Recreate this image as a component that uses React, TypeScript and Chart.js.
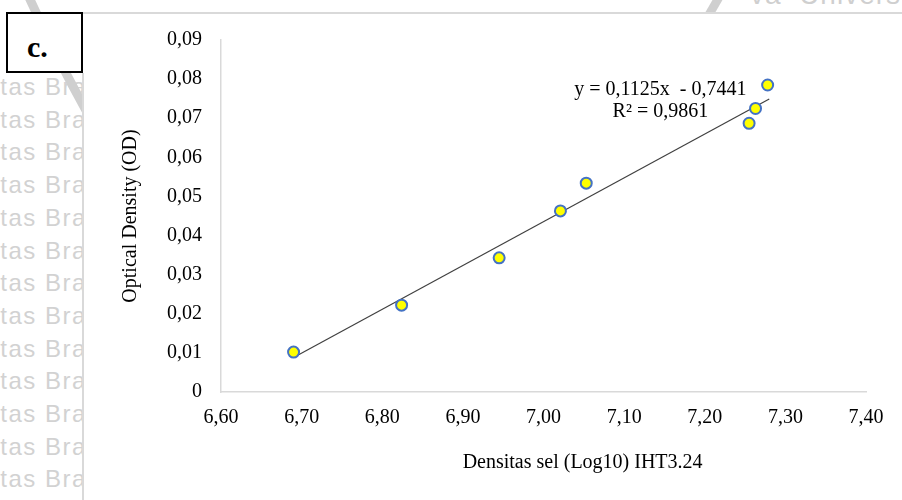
import React, { useEffect, useRef } from "react";
import { Chart, registerables } from "chart.js";

Chart.register(...registerables);

// ---- data ----
const cellDensity = [6.69, 6.824, 6.945, 7.021, 7.053, 7.255, 7.263, 7.278];
const opticalDensity = [0.0102, 0.0222, 0.0343, 0.0463, 0.0534, 0.0687, 0.0725, 0.0785];
const trendX = [6.69, 7.28];
const trendY = [0.0088, 0.0749];
const xTicks = [6.6, 6.7, 6.8, 6.9, 7.0, 7.1, 7.2, 7.3, 7.4];
const yTicks = [0, 0.01, 0.02, 0.03, 0.04, 0.05, 0.06, 0.07, 0.08, 0.09];
const equationLines = ["y = 0,1125x  - 0,7441", "R\u00B2 = 0,9861"];
const xTitle = "Densitas sel (Log10) IHT3.24";
const yTitle = "Optical Density (OD)";
const panelLabel = "c.";
const watermarkRows = Array.from({ length: 13 }, (_, i) => i);

const SERIF = "'Times New Roman', 'Liberation Serif', serif";

const annotationPlugin = {
  id: "equationLabel",
  afterDatasetsDraw(chart: any) {
    const { ctx, scales, chartArea } = chart;
    const xs = scales.x;
    const ys = scales.y;
    const anchorX = 7.145;
    const anchorY = [0.0772, 0.0716];
    ctx.save();
    ctx.fillStyle = "#000";
    ctx.font = `20px ${SERIF}`;
    ctx.textAlign = "center";
    ctx.textBaseline = "middle";
    equationLines.forEach((t, i) => {
      ctx.fillText(t, xs.getPixelForValue(anchorX), ys.getPixelForValue(anchorY[i]));
    });
    // x-axis title (Excel places it right of centre)
    ctx.fillText(xTitle, xs.getPixelForValue(7.0485), chartArea.bottom + 71);
    ctx.restore();
  },
};

export default function App() {
  const ref = useRef<HTMLCanvasElement | null>(null);

  useEffect(() => {
    document.body.style.margin = "0";
    if (!ref.current) return;
    const chart = new Chart(ref.current, {
      type: "scatter",
      data: {
        datasets: [
          {
            type: "scatter",
            label: "OD",
            data: cellDensity.map((x, i) => ({ x, y: opticalDensity[i] })),
            pointRadius: 5.5,
            pointHoverRadius: 5.5,
            pointBorderWidth: 2,
            pointBackgroundColor: "#FFFF00",
            pointBorderColor: "#4472C4",
            order: 0,
          },
          {
            type: "line",
            label: "Linear",
            data: trendX.map((x, i) => ({ x, y: trendY[i] })),
            borderColor: "#404040",
            borderWidth: 1.2,
            pointRadius: 0,
            fill: false,
            order: 1,
          },
        ] as any,
      },
      options: {
        animation: false,
        responsive: false,
        maintainAspectRatio: false,
        layout: { padding: { left: 119, top: 40, right: 36, bottom: 26 } },
        plugins: {
          legend: { display: false },
          tooltip: { enabled: false },
        },
        scales: {
          x: {
            type: "linear",
            position: "bottom",
            min: 6.6,
            max: 7.4,
            afterBuildTicks: (s: any) => {
              s.ticks = xTicks.map((v) => ({ value: v }));
            },
            afterFit: (s: any) => {
              s.height = 82;
            },
            grid: { display: false, drawTicks: false },
            border: { display: true, color: "#d9d9d9", width: 1.5 },
            ticks: {
              padding: 14,
              color: "#000",
              font: { family: SERIF, size: 20 },
              maxRotation: 0,
              callback: (v: any) => Number(v).toFixed(2).replace(".", ","),
            },
            title: { display: false, text: xTitle },
          },
          y: {
            type: "linear",
            min: 0,
            max: 0.09,
            afterBuildTicks: (s: any) => {
              s.ticks = yTicks.map((v) => ({ value: v }));
            },
            afterFit: (s: any) => {
              s.width = 102;
            },
            grid: { display: false, drawTicks: false },
            border: { display: true, color: "#d9d9d9", width: 1.5 },
            ticks: {
              padding: 19,
              color: "#000",
              font: { family: SERIF, size: 20 },
              callback: (v: any) =>
                Number(v) === 0 ? "0" : Number(v).toFixed(2).replace(".", ","),
            },
            title: {
              display: true,
              text: yTitle,
              color: "#000",
              font: { family: SERIF, size: 20 },
              padding: 0,
            },
          },
        },
      },
      plugins: [annotationPlugin],
    } as any);
    return () => chart.destroy();
  }, []);

  return (
    <div
      style={{
        position: "relative",
        width: 902,
        height: 500,
        overflow: "hidden",
        background: "#fff",
      }}
    >
      {/* left watermark */}
      <div
        style={{
          position: "absolute",
          left: 0,
          top: 0,
          width: 82,
          height: 500,
          overflow: "hidden",
        }}
      >
        {watermarkRows.map((i) => (
          <div
            key={i}
            style={{
              position: "absolute",
              left: -20,
              top: 73 + i * 32.7,
              font: "24px 'Liberation Sans', Arial, sans-serif",
              letterSpacing: 1.5,
              color: "#d2d2d2",
              whiteSpace: "nowrap",
              lineHeight: "28px",
            }}
          >
            sitas Brawijaya
          </div>
        ))}
        <svg
          width={90}
          height={130}
          style={{ position: "absolute", left: 0, top: 0 }}
        >
          <path
            d="M 28 -5 Q 55 55 88 114"
            stroke="#cfcfcf"
            strokeWidth={9}
            fill="none"
          />
        </svg>
      </div>
      {/* top watermark */}
      <div
        style={{
          position: "absolute",
          left: 83,
          top: 0,
          width: 819,
          height: 12,
          overflow: "hidden",
        }}
      >
        <div
          style={{
            position: "absolute",
            left: 667,
            top: -19,
            font: "28px 'Liberation Sans', Arial, sans-serif",
            color: "#cfcfcf",
            whiteSpace: "nowrap",
            lineHeight: "28px",
            letterSpacing: 1,
          }}
        >
          va&nbsp;&nbsp;Univers
        </div>
        <div
          style={{
            position: "absolute",
            left: 626,
            top: -4,
            width: 10,
            height: 20,
            background: "#cfcfcf",
            transform: "skewX(-30deg)",
          }}
        />
      </div>
      {/* frame lines */}
      <div
        style={{
          position: "absolute",
          left: 83,
          top: 12,
          width: 819,
          height: 2,
          background: "#d9d9d9",
        }}
      />
      <div
        style={{
          position: "absolute",
          left: 82,
          top: 73,
          width: 2,
          height: 427,
          background: "#d9d9d9",
        }}
      />
      {/* panel label */}
      <div
        style={{
          position: "absolute",
          left: 6,
          top: 12,
          width: 77,
          height: 61,
          boxSizing: "border-box",
          border: "2px solid #000",
          background: "#fff",
        }}
      >
        <span
          style={{
            position: "absolute",
            left: 19,
            top: 18,
            font: `bold 30px ${SERIF}`,
            lineHeight: "30px",
            color: "#000",
          }}
        >
          {panelLabel}
        </span>
      </div>
      <canvas
        ref={ref}
        width={902}
        height={500}
        style={{ position: "absolute", left: 0, top: 0, width: 902, height: 500 }}
      />
    </div>
  );
}
